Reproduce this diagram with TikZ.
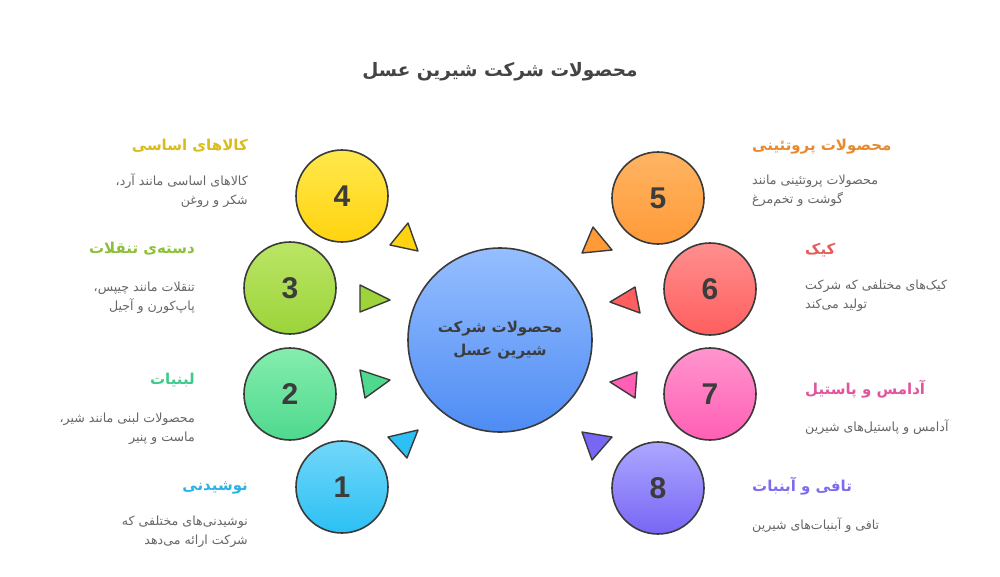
\documentclass[tikz,border=0pt]{standalone}
\usepackage{fontspec}
\TeXXeTstate=1
\newfontfamily\arabicfont[Script=Arabic]{DejaVu Sans}
\newfontfamily\numfont{Liberation Sans}
\newcommand\fa[1]{{\arabicfont\beginR #1\endR}}
\definecolor{edge}{HTML}{3A3A3A}
\definecolor{numgray}{HTML}{3C3C3C}
\definecolor{titlegray}{HTML}{444444}
\definecolor{descgray}{HTML}{666666}
\definecolor{yelT}{HTML}{FFE84C}\definecolor{yelB}{HTML}{FFD30F}
\definecolor{grnT}{HTML}{BBE565}\definecolor{grnB}{HTML}{9CD43A}
\definecolor{tealT}{HTML}{85EDAD}\definecolor{tealB}{HTML}{4ED98E}
\definecolor{cyanT}{HTML}{72D7FA}\definecolor{cyanB}{HTML}{2CC0F4}
\definecolor{oraT}{HTML}{FFB463}\definecolor{oraB}{HTML}{FF9A38}
\definecolor{redT}{HTML}{FF8F8F}\definecolor{redB}{HTML}{FF5E5E}
\definecolor{pnkT}{HTML}{FF95CE}\definecolor{pnkB}{HTML}{FF5FB4}
\definecolor{purT}{HTML}{ADA7FF}\definecolor{purB}{HTML}{7866F5}
\definecolor{bluT}{HTML}{96BEFF}\definecolor{bluB}{HTML}{4E8CF4}
\definecolor{yelH}{HTML}{D9BC1C}
\definecolor{grnH}{HTML}{8DC03A}
\definecolor{tealH}{HTML}{3CCB8C}
\definecolor{cyanH}{HTML}{2AB3E6}
\definecolor{oraH}{HTML}{E8892E}
\definecolor{redH}{HTML}{E65A5A}
\definecolor{pnkH}{HTML}{E0559E}
\definecolor{purH}{HTML}{7B6DEB}
\tikzset{
  numcircle/.style={circle, minimum size=92pt, inner sep=0pt, draw=edge, line width=1.6pt,
    font=\numfont\bfseries\fontsize{30}{30}\selectfont, text=numgray},
  hubcircle/.style={circle, minimum size=184pt, inner sep=0pt, draw=edge, line width=1.6pt,
    top color=bluT, bottom color=bluB, text=numgray, align=center,
    font=\fontsize{15}{23}\selectfont\bfseries},
  tri/.style={draw=edge, line width=1.4pt, line join=round},
  heading/.style={inner sep=0pt, font=\fontsize{15}{18}\selectfont\bfseries},
  desc/.style={inner sep=0pt, text=descgray, font=\fontsize{12.6}{19}\selectfont},
  titletext/.style={inner sep=0pt, text=titlegray, font=\fontsize{18.5}{24}\selectfont\bfseries}
}
\begin{document}
\begin{tikzpicture}[x=1pt,y=-1pt]
\useasboundingbox (0,0) rectangle (1000,576);
\fill[white] (0,0) rectangle (1000,576);

\node[titletext] (title) at (500,72) {\fa{محصولات شرکت شیرین عسل}};

% hub
\node[hubcircle] (hub) at (500,340) {\fa{محصولات شرکت}\\\fa{شیرین عسل}};

% circles
\node[numcircle, top color=yelT, bottom color=yelB] (c4) at (342,196) {4};
\node[numcircle, top color=grnT, bottom color=grnB] (c3) at (290,288) {3};
\node[numcircle, top color=tealT, bottom color=tealB] (c2) at (290,394) {2};
\node[numcircle, top color=cyanT, bottom color=cyanB] (c1) at (342,487) {1};
\node[numcircle, top color=oraT, bottom color=oraB] (c5) at (658,198) {5};
\node[numcircle, top color=redT, bottom color=redB] (c6) at (710,289) {6};
\node[numcircle, top color=pnkT, bottom color=pnkB] (c7) at (710,394) {7};
\node[numcircle, top color=purT, bottom color=purB] (c8) at (658,488) {8};

% triangles
\filldraw[tri, fill=yelB] (390,245) -- (408,223) -- (418,251) -- cycle;
\filldraw[tri, fill=grnB] (360,285) -- (390,300) -- (360,312) -- cycle;
\filldraw[tri, fill=tealB] (360,370) -- (390,380) -- (365,398) -- cycle;
\filldraw[tri, fill=cyanB] (388,437) -- (418,430) -- (407,458) -- cycle;
\filldraw[tri, fill=oraB] (582,253) -- (593,227) -- (612,250) -- cycle;
\filldraw[tri, fill=redB] (610,302) -- (635,287) -- (640,313) -- cycle;
\filldraw[tri, fill=pnkB] (610,382) -- (637,372) -- (635,398) -- cycle;
\filldraw[tri, fill=purB] (582,432) -- (612,437) -- (592,460) -- cycle;

% left labels
\node[heading, text=yelH, anchor=east] (h4) at (248,146) {\fa{کالاهای اساسی}};
\node[desc, anchor=east, align=right] (d4) at (248,191) {\fa{کالاهای اساسی مانند آرد،}\\\fa{شکر و روغن}};
\node[heading, text=grnH, anchor=east] (h3) at (195,249) {\fa{دسته‌ی تنقلات}};
\node[desc, anchor=east, align=right] (d3) at (195,298) {\fa{تنقلات مانند چیپس،}\\\fa{پاپ‌کورن و آجیل}};
\node[heading, text=tealH, anchor=east] (h2) at (195,380) {\fa{لبنیات}};
\node[desc, anchor=east, align=right] (d2) at (195,429) {\fa{محصولات لبنی مانند شیر،}\\\fa{ماست و پنیر}};
\node[heading, text=cyanH, anchor=east] (h1) at (248,488) {\fa{نوشیدنی}};
\node[desc, anchor=east, align=right] (d1) at (248,532) {\fa{نوشیدنی‌های مختلفی که}\\\fa{شرکت ارائه می‌دهد}};

% right labels
\node[heading, text=oraH, anchor=west] (h5) at (752,147) {\fa{محصولات پروتئینی}};
\node[desc, anchor=west, align=left] (d5) at (752,191) {\fa{محصولات پروتئینی مانند}\\\fa{گوشت و تخم‌مرغ}};
\node[heading, text=redH, anchor=west] (h6) at (805,250) {\fa{کیک}};
\node[desc, anchor=west, align=left] (d6) at (805,296) {\fa{کیک‌های مختلفی که شرکت}\\\fa{تولید می‌کند}};
\node[heading, text=pnkH, anchor=west] (h7) at (805,389) {\fa{آدامس و پاستیل}};
\node[desc, anchor=west] (d7) at (805,427) {\fa{آدامس و پاستیل‌های شیرین}};
\node[heading, text=purH, anchor=west] (h8) at (752,486) {\fa{تافی و آبنبات}};
\node[desc, anchor=west] (d8) at (752,525) {\fa{تافی و آبنبات‌های شیرین}};
\end{tikzpicture}
\end{document}
